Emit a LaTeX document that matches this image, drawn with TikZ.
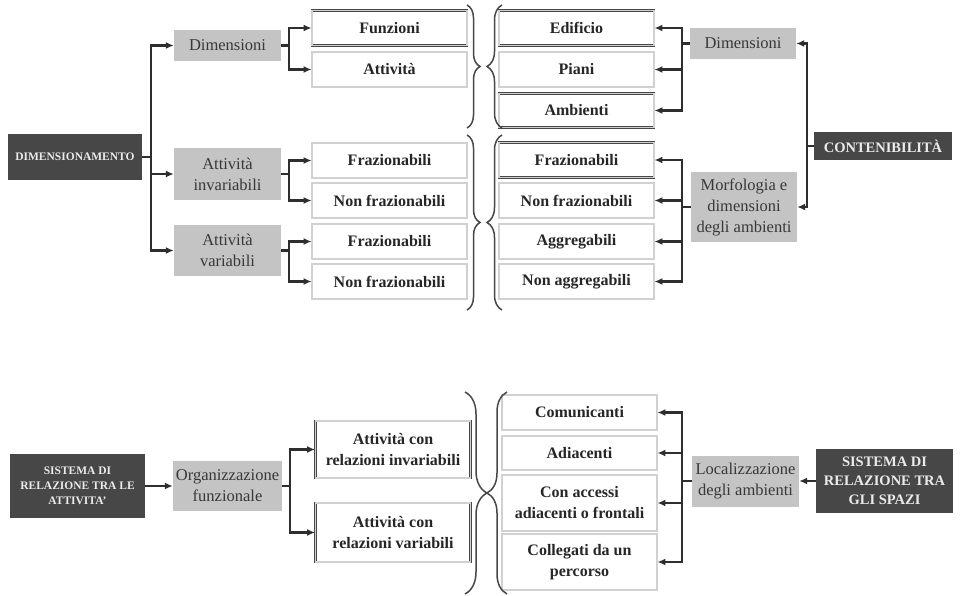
\documentclass[tikz,border=0pt]{standalone}
\usepackage{fontspec}
\setmainfont{Liberation Serif}
\usepackage{xcolor}
\usepackage{tikz}
\usetikzlibrary{arrows.meta, positioning, calc, decorations.pathreplacing}
\definecolor{darkbox}{HTML}{474747}
\definecolor{greybox}{HTML}{C4C4C4}
\definecolor{linegrey}{HTML}{2E2E2E}

\begin{document}
\begin{tikzpicture}[
  x=1pt, y=-1pt,
  wbox/.style={rectangle, draw=black!72, double=black!18, double distance=1.1pt, line width=0.9pt, minimum width=155pt, minimum height=35pt, inner sep=1pt, align=center, text=black!85, font=\fontsize{16}{21}\selectfont\bfseries},
  gbox/.style={rectangle, fill=greybox, minimum width=107pt, inner sep=1pt, align=center, text=black!78, font=\fontsize{16.5}{21}\selectfont},
  dbox/.style={rectangle, fill=darkbox, inner sep=1pt, align=center, text=white!92!black},
  arr/.style={draw=linegrey, line width=2.2pt, -{Latex[length=8pt,width=7pt]}},
  brc/.style={decorate, decoration={brace, amplitude=#1}, draw=black!72, line width=1.5pt}
]
  \useasboundingbox (0,0) rectangle (962,596);

  % left tree
  \node[dbox, minimum width=134pt, minimum height=46pt, font=\fontsize{11.5}{14}\selectfont\bfseries] (dim) at (75,157) {DIMENSIONAMENTO};
  \node[gbox, minimum height=31pt] (ldim) at (227.5,45.5) {Dimensioni};
  \node[gbox, minimum height=52pt] (linv) at (227.5,174) {Attività\\invariabili};
  \node[gbox, minimum height=51pt] (lvar) at (227.5,250.5) {Attività\\variabili};
  \coordinate (lfork) at (151,157);

  \node[wbox] (fun) at (389.5,28) {Funzioni};
  \node[wbox] (att) at (389.5,69.5) {Attività};
  \node[wbox] (fr1) at (389.5,160.5) {Frazionabili};
  \node[wbox] (nf1) at (389.5,200.5) {Non frazionabili};
  \node[wbox] (fr2) at (389.5,241.5) {Frazionabili};
  \node[wbox] (nf2) at (389.5,281.5) {Non frazionabili};

  % right tree
  \node[wbox] (edi) at (576.5,28) {Edificio};
  \node[wbox] (pia) at (576.5,69.5) {Piani};
  \node[wbox, minimum height=34pt] (amb) at (576.5,110.5) {Ambienti};
  \node[wbox] (fr3) at (576.5,160) {Frazionabili};
  \node[wbox] (nf3) at (576.5,200.5) {Non frazionabili};
  \node[wbox] (agg) at (576.5,241.5) {Aggregabili};
  \node[wbox] (nag) at (576.5,281.5) {Non aggregabili};

  \node[gbox, minimum width=106pt, minimum height=31pt] (rdim) at (743,43.5) {Dimensioni};
  \node[gbox, minimum width=106pt, minimum height=70pt] (morf) at (744,207) {Morfologia e\\dimensioni\\degli ambienti};
  \node[dbox, minimum width=138pt, minimum height=28pt, font=\fontsize{14.5}{18}\selectfont\bfseries] (cont) at (883,146) {CONTENIBILITÀ};

  % bottom
  \node[dbox, minimum width=135pt, minimum height=64pt, font=\fontsize{11.5}{15}\selectfont\bfseries] (sra) at (77.5,486) {SISTEMA DI\\RELAZIONE TRA LE\\ATTIVITA'};
  \node[gbox, minimum width=109pt, minimum height=50pt] (org) at (227.5,486) {Organizzazione\\funzionale};
  \node[wbox, minimum height=57pt] (acri) at (393,449.5) {Attività con\\relazioni invariabili};
  \node[wbox, minimum height=59pt] (acrv) at (393,532.5) {Attività con\\relazioni variabili};

  \node[wbox] (com) at (579.5,412.5) {Comunicanti};
  \node[wbox, minimum height=34pt] (adi) at (579.5,453) {Adiacenti};
  \node[wbox, minimum height=56pt] (acc) at (579.5,503) {Con accessi\\adiacenti o frontali};
  \node[wbox, minimum height=56pt] (col) at (579.5,562) {Collegati da un\\percorso};
  \node[gbox, minimum height=51pt] (loc) at (745.5,481) {Localizzazione\\degli ambienti};
  \node[dbox, minimum width=137pt, minimum height=64pt, font=\fontsize{14.5}{19}\selectfont\bfseries] (srs) at (884.5,481) {SISTEMA DI\\RELAZIONE TRA\\GLI SPAZI};

  % connectors
  \draw[arr] (dim.east) -- (lfork) |- (ldim.west);
  \draw[arr] (dim.east) -- (lfork) |- (linv.west);
  \draw[arr] (dim.east) -- (lfork) |- (lvar.west);
  \draw[arr] (ldim.east) -- ++(8,0) |- (fun.west);
  \draw[arr] (ldim.east) -- ++(8,0) |- (att.west);
  \draw[arr] (linv.east) -- ++(8,0) |- (fr1.west);
  \draw[arr] (linv.east) -- ++(8,0) |- (nf1.west);
  \draw[arr] (lvar.east) -- ++(8,0) |- (fr2.west);
  \draw[arr] (lvar.east) -- ++(8,0) |- (nf2.west);

  \draw[arr] (cont.west) -- ++(-7,0) |- (rdim.east);
  \draw[arr] (cont.west) -- ++(-7,0) |- (morf.east);
  \foreach \n in {edi,pia,amb}
    \draw[arr] (rdim.west) -- ++(-8,0) |- (\n.east);
  \foreach \n in {fr3,nf3,agg,nag}
    \draw[arr] (morf.west) -- ++(-9,0) |- (\n.east);

  \draw[arr] (sra.east) -- (org.west);
  \draw[arr] (org.east) -- ++(8,0) |- (acri.west);
  \draw[arr] (org.east) -- ++(8,0) |- (acrv.west);
  \draw[arr] (srs.west) -- (loc.east);
  \foreach \n in {com,adi,acc,col}
    \draw[arr] (loc.west) -- ++(-10,0) |- (\n.east);

  % braces
  \draw[brc=13] (467,5) -- (467,128);
  \draw[brc=15] (502,128) -- (502,5);
  \draw[brc=13] (467,135) -- (467,310);
  \draw[brc=15] (502,310) -- (502,135);
  \draw[brc=22] (465,392) -- (465,594);
  \draw[brc=20] (507,594) -- (507,392);
\end{tikzpicture}
\end{document}
